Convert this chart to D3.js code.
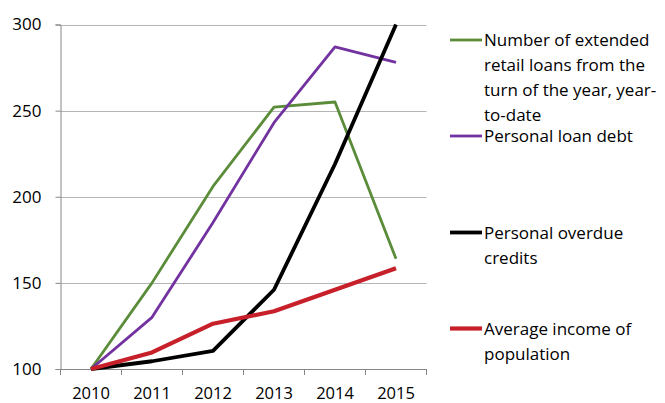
<!DOCTYPE html>
<meta charset="utf-8">
<style>
body { margin: 0; background: #fff; }
svg text { font-family: "Open Sans", "Noto Sans", sans-serif; fill: #000; }
</style>
<html>
<head><title>Loans</title></head>
<body>
<svg id="chart" width="665" height="403"></svg>
</body>
</html>
<script src="https://d3js.org/d3.v7.min.js"></script>
<script type="text/javascript">
var years = ["2010", "2011", "2012", "2013", "2014", "2015"];
var yTicks = [100, 150, 200, 250, 300];

var retailLoans = [100, 150, 206, 252, 255, 164];
var loanDebt = [100, 130, 185, 243, 287, 278];
var overdue = [100, 104.5, 110.5, 146, 219, 300];
var income = [100, 109.6, 126.3, 133.5, 146, 158.5];

var seriesNames = [
  ["Number of extended", "retail loans from the", "turn of the year, year-", "to-date"],
  ["Personal loan debt"],
  ["Personal overdue", "credits"],
  ["Average income of", "population"]
];
var seriesValues = [retailLoans, loanDebt, overdue, income];
var colors = ["#5b8c3a", "#7232a0", "#000000", "#c8202a"];
var widths = [2.8, 2.8, 3.8, 4.2];

var svg = d3.select("#chart");

var plotLeft = 60.5, plotRight = 426.5, plotTop = 24.5, plotBottom = 369;

var x = d3.scaleBand().domain(years).range([plotLeft, plotRight]);
var y = d3.scaleLinear().domain([100, 300]).range([plotBottom, plotTop]);

// gridlines
svg.append("g").selectAll("line")
  .data(yTicks.slice(1))
  .enter().append("line")
    .attr("x1", plotLeft).attr("x2", plotRight)
    .attr("y1", function(d) { return Math.round(y(d)) + 0.5; })
    .attr("y2", function(d) { return Math.round(y(d)) + 0.5; })
    .attr("stroke", "#b4b4b4").attr("stroke-width", 1);

// y axis
var yAxis = svg.append("g")
  .attr("transform", "translate(" + plotLeft + ",0)")
  .call(d3.axisLeft(y).tickValues(yTicks).tickSize(5).tickPadding(14));
yAxis.select(".domain").attr("stroke", "#868686");
yAxis.selectAll(".tick line").attr("stroke", "#868686");
yAxis.selectAll(".tick text").style("font-size", "17px");

// x axis with ticks at band edges
var xAxis = svg.append("g")
  .attr("transform", "translate(0," + plotBottom + ")")
  .call(d3.axisBottom(x).tickSize(0).tickPadding(18));
xAxis.select(".domain").attr("stroke", "#868686");
xAxis.selectAll(".tick text").style("font-size", "16.5px");
xAxis.selectAll(".edge")
  .data(years.concat(["end"]))
  .enter().append("line")
    .attr("x1", function(d, i) { return plotLeft + i * x.bandwidth(); })
    .attr("x2", function(d, i) { return plotLeft + i * x.bandwidth(); })
    .attr("y1", 0).attr("y2", 6)
    .attr("stroke", "#868686");

var line = d3.line()
  .x(function(d, i) { return x(years[i]) + x.bandwidth() / 2; })
  .y(function(d) { return y(d); });

svg.append("g").selectAll("path")
  .data(seriesValues)
  .enter().append("path")
    .attr("d", line)
    .attr("fill", "none")
    .attr("stroke", function(d, i) { return colors[i]; })
    .attr("stroke-width", function(d, i) { return widths[i]; })
    .attr("stroke-linejoin", "round");

// legend
var legendY = [40, 136, 232.5, 328.5];
var legend = svg.append("g").selectAll("g")
  .data(seriesNames)
  .enter().append("g")
    .attr("transform", function(d, i) { return "translate(0," + legendY[i] + ")"; });

legend.append("line")
  .attr("x1", 450).attr("x2", 482)
  .attr("stroke", function(d, i) { return colors[i]; })
  .attr("stroke-width", function(d, i) { return widths[i]; });

legend.append("text")
  .style("font-size", "17px")
  .selectAll("tspan")
  .data(function(d) { return d; })
  .enter().append("tspan")
    .attr("x", 484)
    .attr("y", function(d, i) { return 6 + i * 25; })
    .text(function(d) { return d; });
</script>
